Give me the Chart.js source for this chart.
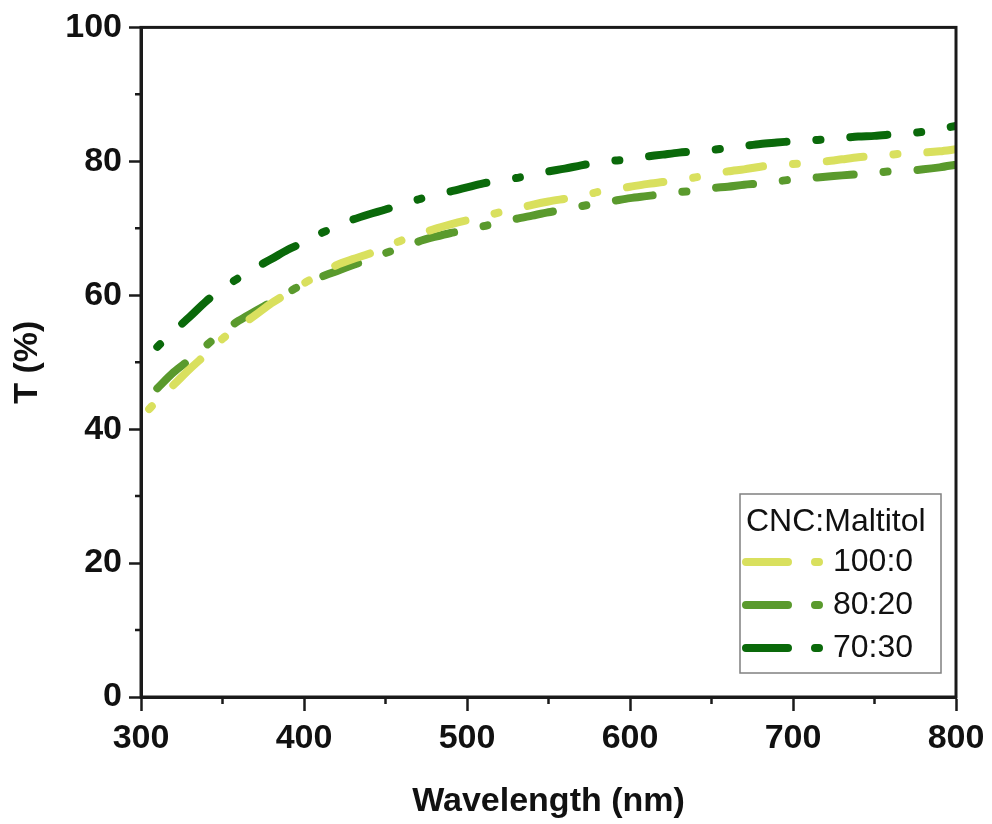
<!DOCTYPE html>
<html>
<head>
<meta charset="utf-8">
<script src="https://cdn.jsdelivr.net/npm/chart.js@4.4.1/dist/chart.umd.min.js"></script>
<style>
  html, body { margin: 0; padding: 0; background: #fff; }
  #wrap { width: 992px; height: 824px; position: relative; }
</style>
</head>
<body>
<div id="wrap"><canvas id="chart"></canvas></div>
<script>
// Transmittance spectra
const wavelengths = [305, 310, 320, 330, 340, 350, 360, 370, 380, 390, 400,
  410, 420, 430, 440, 450, 460, 470, 480, 490, 500,
  510, 520, 530, 540, 550, 560, 570, 580, 590, 600,
  610, 620, 630, 640, 650, 660, 670, 680, 690, 700,
  710, 720, 730, 740, 750, 760, 770, 780, 790, 800];

const t100_0 = [43.0, 44.3, 46.6, 49.0, 51.2, 53.5, 55.3, 57.0, 58.8, 60.3, 61.8,
  63.1, 64.5, 65.4, 66.2, 67.2, 68.2, 69.0, 69.9, 70.6, 71.2,
  71.7, 72.4, 72.9, 73.5, 74.0, 74.4, 74.8, 75.4, 75.8, 76.2,
  76.6, 76.9, 77.2, 77.6, 78.0, 78.5, 78.8, 79.2, 79.5, 79.6,
  79.8, 80.0, 80.3, 80.6, 80.8, 81.0, 81.2, 81.3, 81.5, 81.8];

const t80_20 = [null, 46.1, 48.5, 50.4, 52.5, 54.5, 56.2, 57.6, 59.0, 60.4, 61.7,
  62.7, 63.6, 64.5, 65.4, 66.3, 67.1, 68.0, 68.7, 69.3, 69.7,
  70.3, 70.8, 71.4, 71.9, 72.4, 72.8, 73.3, 73.7, 74.1, 74.5,
  74.8, 75.1, 75.4, 75.6, 76.0, 76.2, 76.5, 76.7, 77.0, 77.3,
  77.5, 77.7, 77.9, 78.1, 78.3, 78.5, 78.6, 78.8, 79.1, 79.5];

const t70_30 = [null, 52.3, 54.6, 56.8, 59.1, 61.0, 62.6, 64.1, 65.4, 66.8, 67.9,
  69.2, 70.3, 71.3, 72.1, 72.8, 73.6, 74.3, 75.0, 75.5, 76.1,
  76.7, 77.2, 77.5, 78.0, 78.5, 78.9, 79.4, 79.8, 80.1, 80.3,
  80.7, 81.0, 81.3, 81.5, 81.7, 82.0, 82.3, 82.6, 82.8, 83.0,
  83.1, 83.3, 83.5, 83.7, 83.8, 84.0, 84.2, 84.4, 84.8, 85.3];

const seriesLabels = ['100:0', '80:20', '70:30'];
const seriesColors = ['#d9e05e', '#5a9a2d', '#0a690a'];
const legendTitle = 'CNC:Maltitol';

const minorX = [350, 450, 550, 650, 750];
const minorY = [10, 30, 50, 70, 90];

const FONT = "'Liberation Sans', Arial, sans-serif";
const DASH = [37, 30, 4, 30];
const DASH_OFFSETS = [67, 0, 67];

function toPoints(values) {
  const pts = [];
  values.forEach((v, i) => {
    if (v !== null) pts.push({ x: wavelengths[i], y: v });
  });
  return pts;
}

const datasets = [t100_0, t80_20, t70_30].map((vals, i) => ({
  label: seriesLabels[i],
  data: toPoints(vals),
  borderColor: seriesColors[i],
  borderWidth: 8,
  borderDash: DASH,
  borderDashOffset: DASH_OFFSETS[i],
  borderCapStyle: 'round',
  pointRadius: 0,
  tension: 0.3,
  fill: false,
}));

// frame, minor ticks and the boxed legend
const framePlugin = {
  id: 'frame',
  afterDraw(chart) {
    const { ctx, chartArea: a, scales } = chart;
    ctx.save();
    ctx.strokeStyle = '#1a1a1a';
    ctx.lineWidth = 3;
    ctx.strokeRect(a.left, a.top, a.right - a.left, a.bottom - a.top);

    ctx.lineWidth = 2.5;
    ctx.beginPath();
    minorX.forEach(v => {
      const px = scales.x.getPixelForValue(v);
      ctx.moveTo(px, a.bottom);
      ctx.lineTo(px, a.bottom + 7);
    });
    minorY.forEach(v => {
      const py = scales.y.getPixelForValue(v);
      ctx.moveTo(a.left, py);
      ctx.lineTo(a.left - 6, py);
    });
    ctx.stroke();

    // legend box
    const boxW = 201, boxH = 179;
    const bx = a.right - 15 - boxW;
    const by = a.bottom - 24 - boxH;
    ctx.strokeStyle = '#808080';
    ctx.lineWidth = 1.5;
    ctx.strokeRect(bx, by, boxW, boxH);

    ctx.fillStyle = '#111';
    ctx.font = '32px ' + FONT;
    ctx.textBaseline = 'middle';
    ctx.textAlign = 'left';
    ctx.fillText(legendTitle, bx + 6, by + 28);

    chart.data.datasets.forEach((ds, i) => {
      const cy = by + 68 + i * 43;
      ctx.save();
      ctx.strokeStyle = ds.borderColor;
      ctx.lineWidth = 8;
      ctx.lineCap = 'round';
      ctx.setLineDash([42, 27, 4, 30]);
      ctx.beginPath();
      ctx.moveTo(bx + 6, cy);
      ctx.lineTo(bx + 82, cy);
      ctx.stroke();
      ctx.restore();
      ctx.fillStyle = '#111';
      ctx.fillText(ds.label, bx + 93, cy);
    });
    ctx.restore();
  }
};

new Chart(document.getElementById('chart'), {
  type: 'line',
  data: { datasets },
  plugins: [framePlugin],
  options: {
    responsive: true,
    maintainAspectRatio: false,
    animation: false,
    layout: { padding: { top: 25, right: 36, left: 0, bottom: 0 } },
    plugins: {
      legend: { display: false },
      tooltip: { enabled: false },
    },
    scales: {
      x: {
        type: 'linear',
        min: 300,
        max: 800,
        afterFit(scale) { scale.height = 127; },
        grid: {
          drawOnChartArea: false,
          tickLength: 14,
          tickWidth: 2.5,
          tickColor: '#1a1a1a',
        },
        border: { color: '#1a1a1a', width: 3 },
        ticks: {
          stepSize: 100,
          padding: 7,
          color: '#111',
          font: { family: FONT, size: 34, weight: 'bold' },
        },
        title: {
          display: true,
          text: 'Wavelength (nm)',
          color: '#111',
          padding: { top: 0, bottom: 2 },
          font: { family: FONT, size: 34, weight: 'bold' },
        },
      },
      y: {
        min: 0,
        max: 100,
        afterFit(scale) { scale.width = 141; },
        grid: {
          drawOnChartArea: false,
          tickLength: 12,
          tickWidth: 2.5,
          tickColor: '#1a1a1a',
        },
        border: { color: '#1a1a1a', width: 3 },
        ticks: {
          stepSize: 20,
          padding: 7,
          color: '#111',
          font: { family: FONT, size: 34, weight: 'bold' },
        },
        title: {
          display: true,
          text: 'T (%)',
          color: '#111',
          padding: { top: 7, bottom: 0 },
          font: { family: FONT, size: 34, weight: 'bold' },
        },
      },
    },
  },
});
</script>
</body>
</html>
